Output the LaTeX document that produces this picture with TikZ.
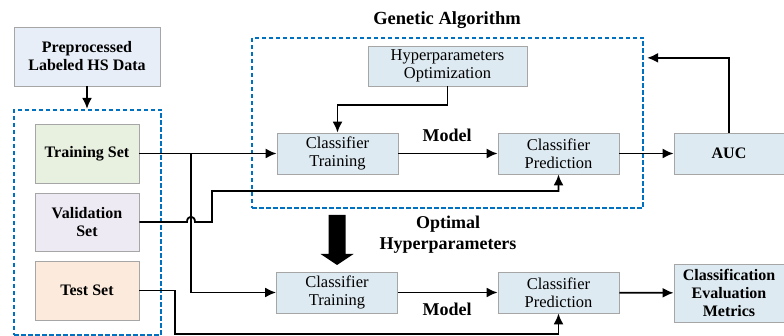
\documentclass[tikz,border=0pt]{standalone}
\usepackage{fontspec}
\setmainfont{Liberation Serif}
\usetikzlibrary{arrows.meta,positioning}
\definecolor{dashblue}{HTML}{0070C0}
\definecolor{boxgray}{HTML}{A6A6A6}
\definecolor{clsblue}{HTML}{DEEAF1}
\definecolor{datablue}{HTML}{E8EEF8}
\definecolor{setgreen}{HTML}{E8F0E0}
\definecolor{setviolet}{HTML}{EEEAF3}
\definecolor{setpeach}{HTML}{FCEBDC}

\begin{document}
\begin{tikzpicture}[x=1pt,y=-1pt,
    box/.style={draw=boxgray,line width=0.8pt,align=center,inner sep=1pt,font=\fontsize{16.5}{18}\selectfont},
    boldbox/.style={box,font=\fontsize{16}{18}\selectfont\bfseries},
    dashbox/.style={draw=dashblue,line width=2.3pt,dash pattern=on 4.5pt off 2.5pt},
    lbl/.style={font=\fontsize{18}{21}\selectfont\bfseries,align=center},
    conn/.style={-{Latex[length=11pt,width=10pt]},line width=1.8pt}]
        \useasboundingbox (0,0) rectangle (784,336);
        % data and the three sets
        \node[boldbox,fill=datablue,minimum width=146,minimum height=59] (prep) at (87,56.5) {Preprocessed\\Labeled HS Data};
        \node[dashbox,minimum width=147,minimum height=225] (sets) at (87.5,222.5) {};
        \node[boldbox,fill=setgreen,minimum width=104,minimum height=59] (train) at (87,153.5) {Training Set};
        \node[boldbox,fill=setviolet,minimum width=104,minimum height=58] (valid) at (87,222) {Validation\\Set};
        \node[boldbox,fill=setpeach,minimum width=104,minimum height=59] (test) at (87,290.5) {Test Set};
        % genetic algorithm loop
        \node[dashbox,minimum width=391,minimum height=170] (ga) at (447.5,123) {};
        \node[lbl,font=\fontsize{18.5}{21}\selectfont\bfseries] (galbl) at (447,20) {Genetic Algorithm};
        \node[box,fill=clsblue,minimum width=159,minimum height=40] (hopt) at (447.5,66) {Hyperparameters\\Optimization};
        \node[box,fill=clsblue,minimum width=121,minimum height=41] (train1) at (337.5,153.5) {Classifier\\Training};
        \node[box,fill=clsblue,minimum width=121,minimum height=41] (pred1) at (558.5,153.5) {Classifier\\Prediction};
        \node[boldbox,fill=clsblue,minimum width=110,minimum height=41] (auc) at (729,153.5) {AUC};
        \node[lbl] (model1) at (447,135) {Model};
        % final model
        \fill (328.5,215) -- (345.5,215) -- (345.5,254) -- (353.5,254) -- (337,265) -- (320.5,254) -- (328.5,254) -- cycle;
        \node[lbl] (optlbl) at (448,235) {Optimal\\Hyperparameters};
        \node[box,fill=clsblue,minimum width=121,minimum height=41] (train2) at (337,292.5) {Classifier\\Training};
        \node[box,fill=clsblue,minimum width=121,minimum height=41] (pred2) at (558.5,292.5) {Classifier\\Prediction};
        \node[boldbox,fill=clsblue,minimum width=110,minimum height=58] (metrics) at (729,293) {Classification\\Evaluation\\Metrics};
        \node[lbl] (model2) at (447,309) {Model};
        % connectors
        \coordinate (split) at (191,153.5);
        \coordinate (vjog) at (212,191);
        \coordinate (tjog) at (175,334);
        \draw[conn] (prep.south) -- (prep.south|-sets.north);
        \draw[conn] (train.east) -- (train1.west);
        \draw[conn] (split) |- (train2.west);
        \draw[conn] (valid.east) -- (187,222) .. controls (187,215) and (195,215) .. (195,222) -- (vjog|-valid.east) -- (vjog) -| (pred1.south);
        \draw[conn] (test.east) -| (tjog) -| (pred2.south);
        \draw[conn] (hopt.south) -- ++(0,19) -| (train1.north);
        \draw[conn] (train1) -- (pred1);
        \draw[conn] (pred1) -- (auc);
        \draw[conn] (auc.north) |- ([shift={(3,21)}]ga.north east);
        \draw[conn] (train2) -- (pred2);
        \draw[conn] (pred2) -- (metrics);
      \end{tikzpicture}
\end{document}
